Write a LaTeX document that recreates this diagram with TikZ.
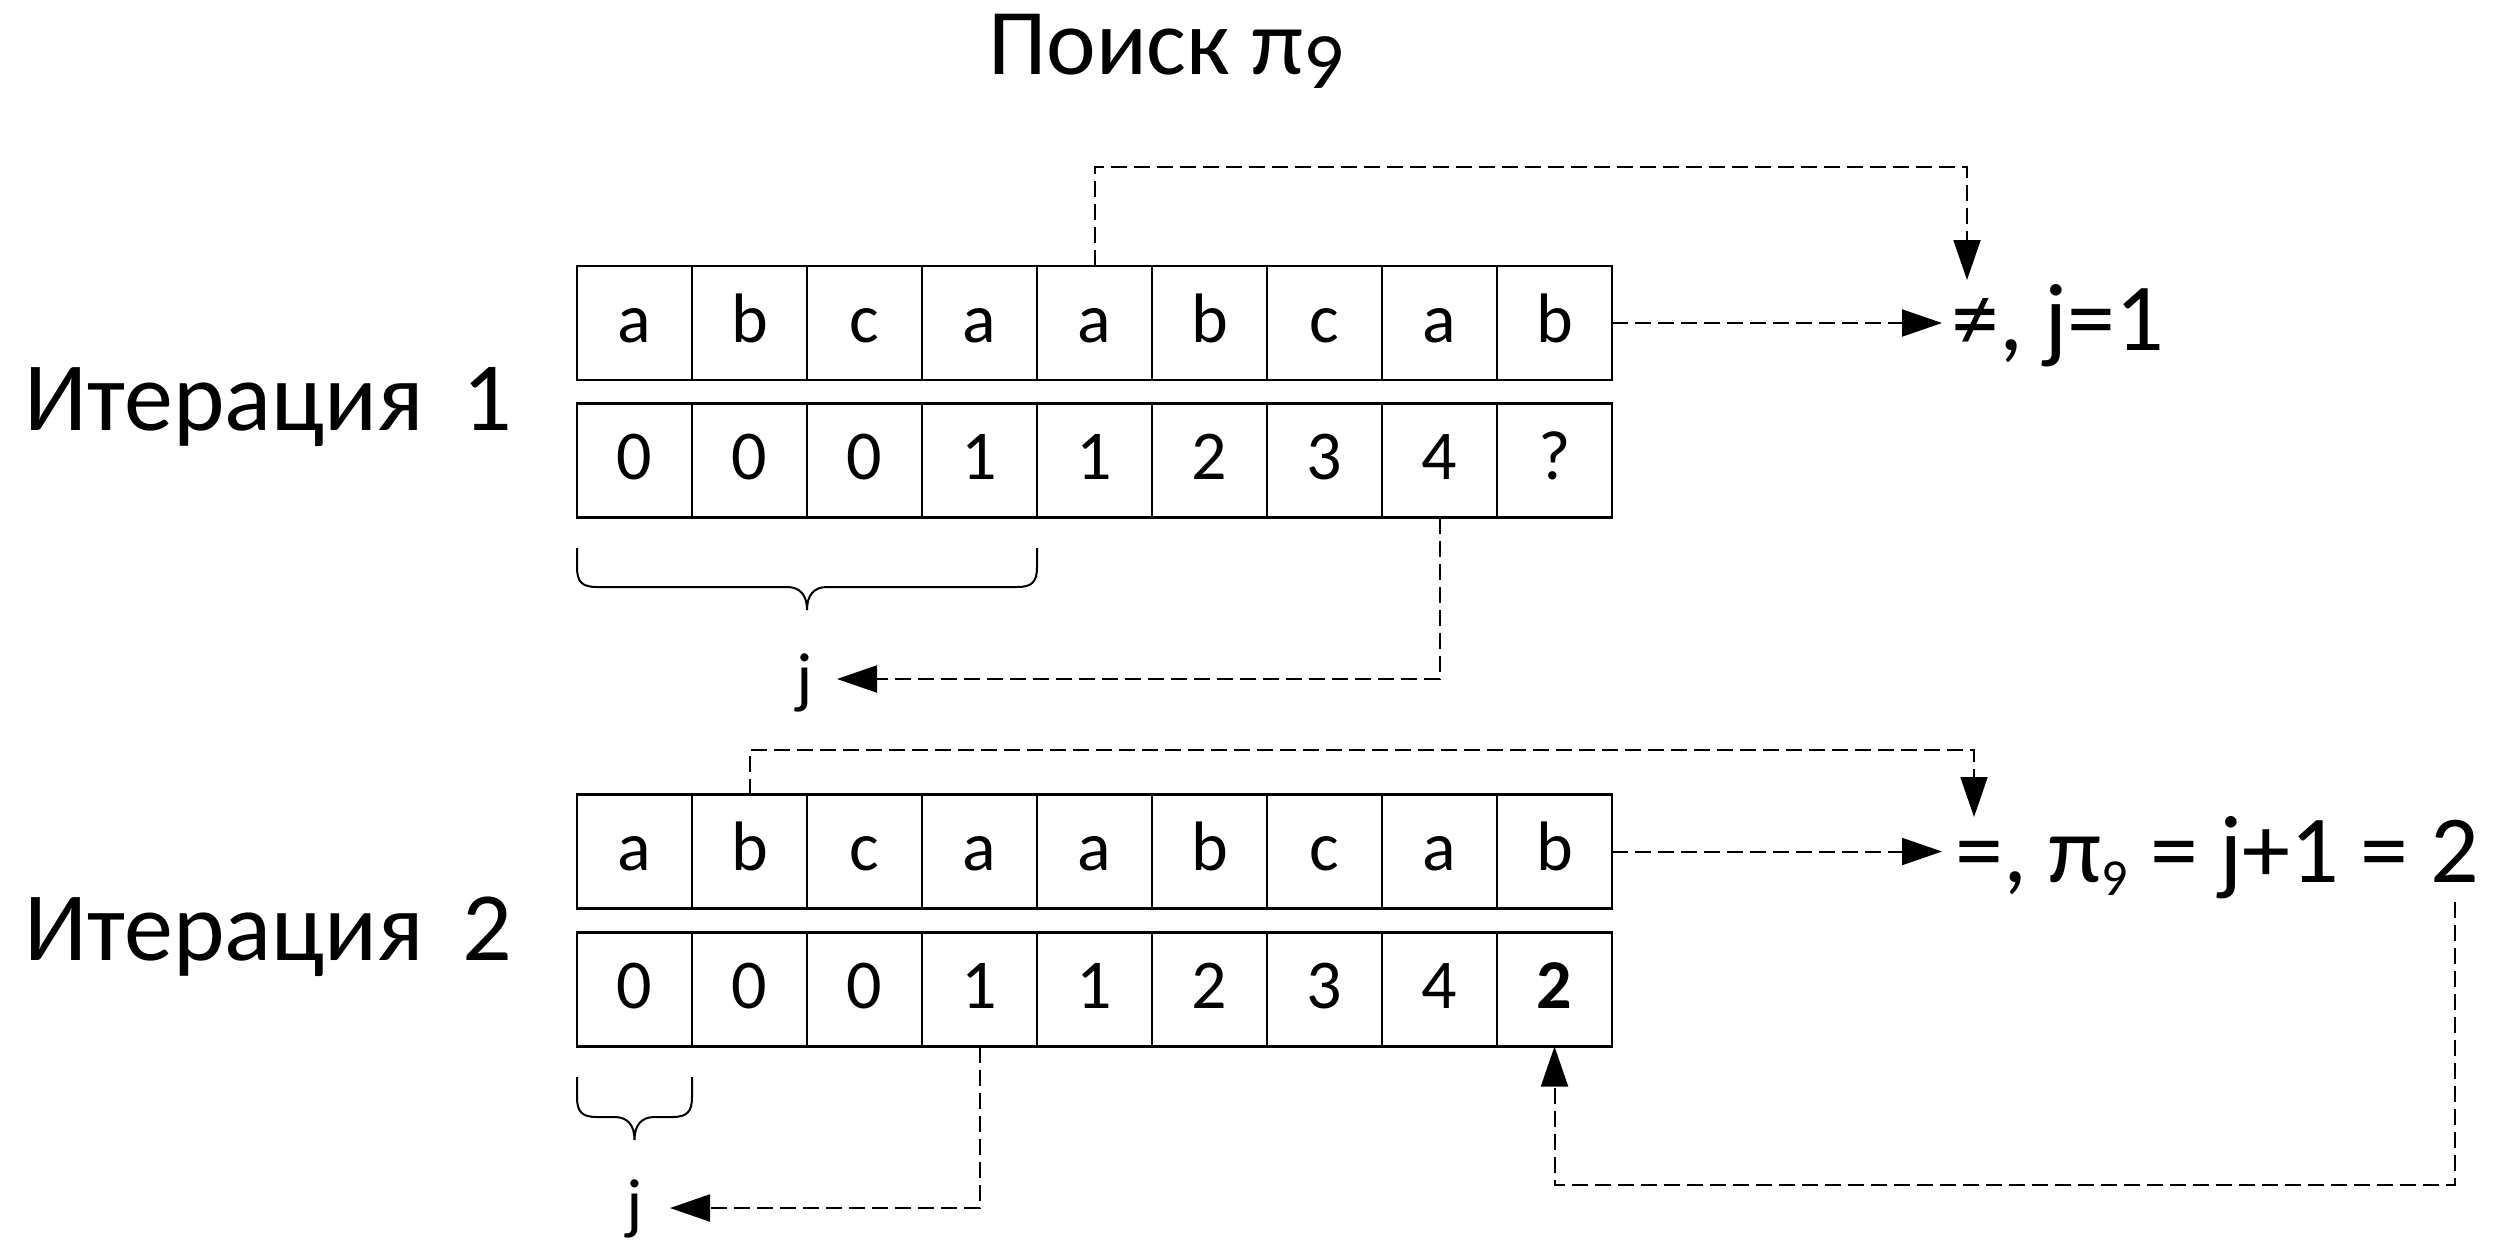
\documentclass[tikz,border=0pt]{standalone}
\usepackage{fontspec}
\setmainfont{Carlito}
\usetikzlibrary{arrows.meta}
\tikzset{
  cell/.style={draw, line width=1.2pt, minimum width=57.5pt, minimum height=57pt,
    inner sep=0pt, outer sep=0pt, text height=19pt, text depth=0pt,
    font=\fontsize{35}{42}\selectfont},
  conn/.style={line width=1pt, dash pattern=on 8pt off 3.5pt,
    -{Triangle[length=20pt,width=13.5pt]}},
  big/.style={font=\fontsize{48}{58}\selectfont, inner sep=0pt, anchor=base west},
  itlabel/.style={font=\fontsize{49}{58}\selectfont, inner sep=0pt, anchor=base west},
  jl/.style={font=\fontsize{34}{40}\selectfont, inner sep=0pt, anchor=base},
  bracestyle/.style={line width=1pt},
}
\begin{document}
\begin{tikzpicture}[x=0.5pt, y=-0.5pt]
\useasboundingbox (0,0) rectangle (2500,1253);

% title
\node[font=\fontsize{47}{56}\selectfont, inner sep=0pt, anchor=base] (title) at (1166,74)
  {Поиск π\raisebox{-7pt}{\fontsize{40}{40}\selectfont 9}};

% labels
\node[itlabel] (it1) at (24,430) {Итерация\hspace{19pt}1};
\node[itlabel] (it2) at (24,960) {Итерация\hspace{19pt}2};

% cells
\foreach \i/\ch in {1/a,2/b,3/c,4/a,5/a,6/b,7/c,8/a,9/b} {
  \node[cell] (t1-\i) at ({634.5+115*(\i-1)}, 323) {\ch};
  \node[cell] (t2-\i) at ({634.5+115*(\i-1)}, 851.5) {\ch};
}
\foreach \i/\v in {1/0,2/0,3/0,4/1,5/1,6/2,7/3,8/4,9/?} {
  \node[cell] (p1-\i) at ({634.5+115*(\i-1)}, 460.5) {\v};
}
\foreach \i/\v in {1/0,2/0,3/0,4/1,5/1,6/2,7/3,8/4} {
  \node[cell] (p2-\i) at ({634.5+115*(\i-1)}, 989.5) {\v};
}
\node[cell] (p2-9) at ({634.5+115*8}, 989.5) {\textbf{2}};

% result texts
\node[big] (ne1) at (1951,350) {≠, j=1};
\node[big] (eq2) at (1955,882) {=, π\raisebox{-6.5pt}{\fontsize{26}{28}\selectfont 9} = j+1 = 2};

% j labels
\node[jl] (j1) at (805,700) {j};
\node[jl] (j2) at (635,1226) {j};

% braces
\draw[bracestyle] (577,548) -- (577,567) .. controls (577,582) and (582,587) .. (597,587)
  -- (787,587) .. controls (800,587) and (807,595) .. (807,610)
  .. controls (807,595) and (814,587) .. (827,587) -- (1017,587)
  .. controls (1032,587) and (1037,582) .. (1037,567) -- (1037,548);
\draw[bracestyle] (577,1077) -- (577,1097) .. controls (577,1112) and (582,1117) .. (597,1117)
  -- (614.5,1117) .. controls (627.5,1117) and (634.5,1125) .. (634.5,1140)
  .. controls (634.5,1125) and (641.5,1117) .. (654.5,1117) -- (672,1117)
  .. controls (687,1117) and (692,1112) .. (692,1097) -- (692,1077);

% connectors iteration 1
\coordinate (k1) at (1967,167);
\coordinate (ne1top) at (1967,280);
\coordinate (ne1left) at (1942,323);
\coordinate (j1tip) at (837,679);
\draw[conn] (t1-5.north) |- (k1) -- (ne1top);
\draw[conn] (t1-9.east) -- (ne1left);
\draw[conn] (p1-8.south) |- (j1tip);

% connectors iteration 2
\coordinate (k2) at (1974,750);
\coordinate (eq2top) at (1974,817);
\coordinate (eq2left) at (1942,851.5);
\coordinate (j2tip) at (670,1208);
\coordinate (eq2bot) at (2455,902);
\coordinate (ret) at (2455,1185);
\draw[conn] (t2-2.north) |- (k2) -- (eq2top);
\draw[conn] (t2-9.east) -- (eq2left);
\draw[conn] (p2-4.south) |- (j2tip);
\draw[conn] (eq2bot) -- (ret) -| (p2-9.south);
\end{tikzpicture}
\end{document}
